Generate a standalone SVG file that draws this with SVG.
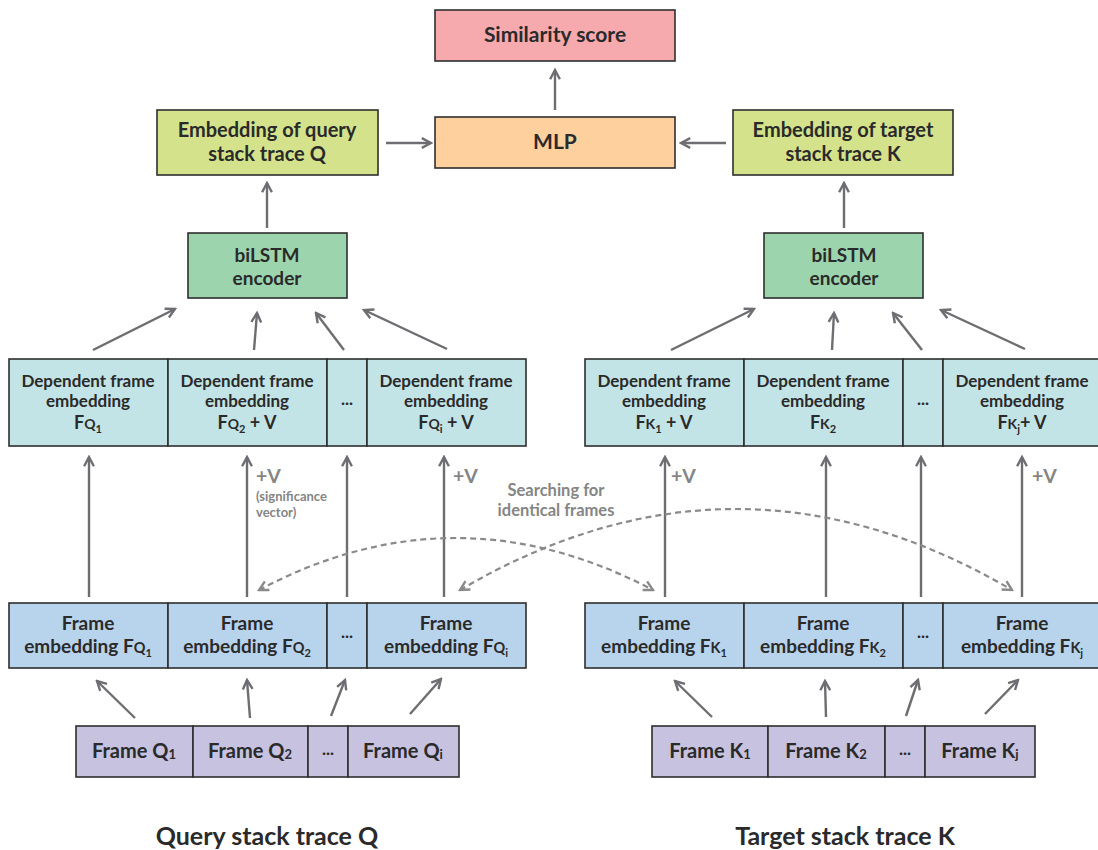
<svg xmlns="http://www.w3.org/2000/svg" width="1098" height="850" viewBox="0 0 1098 850">
<style>
.box{stroke:#2e2e2e;stroke-width:1.6}
.t{font-family:Lato,"Open Sans",sans-serif;font-weight:700;fill:#2a2a2a;text-anchor:middle}
.s20{font-size:20px}
.s19{font-size:19px}
.s17{font-size:17px}
.s18{font-size:18px}
.sub{font-size:11px}
.arr{stroke:#6d6d72;stroke-width:2.4;fill:none;marker-end:url(#ah)}
.dash{stroke:#8a8a8a;stroke-width:2.2;fill:none;stroke-dasharray:6 4;marker-end:url(#ahd);marker-start:url(#ahd)}
.g{font-family:Lato,"Open Sans",sans-serif;font-weight:700;fill:#858585}
.sim{fill:#f7aaae}.mlp{fill:#fdd09e}.emb{fill:#d4e38b}.lstm{fill:#9cd4ae}.dep{fill:#c2e4e6}.fe{fill:#b8d3ec}.fr{fill:#c6c2e0}
</style>
<defs>
<marker id="ah" viewBox="0 0 12 12" refX="10.5" refY="6" markerWidth="13" markerHeight="13" markerUnits="userSpaceOnUse" orient="auto">
<path d="M2,1.5 L10.5,6 L2,10.5" fill="none" stroke="#6d6d72" stroke-width="2.2"/>
</marker>
<marker id="ahd" viewBox="0 0 12 12" refX="10.5" refY="6" markerWidth="13" markerHeight="13" markerUnits="userSpaceOnUse" orient="auto-start-reverse">
<path d="M2,1.5 L10.5,6 L2,10.5" fill="none" stroke="#8a8a8a" stroke-width="2.2"/>
</marker>
</defs>
<rect width="1098" height="850" fill="#ffffff"/>

<g id="connectors">
<line class="arr" x1="555" y1="110" x2="555" y2="70"/>
<line class="arr" x1="386" y1="143" x2="431" y2="143"/>
<line class="arr" x1="726" y1="143" x2="681" y2="143"/>
<line class="arr" x1="267" y1="228" x2="267" y2="183"/>
<line class="arr" x1="844" y1="228" x2="844" y2="183"/>
<line class="arr" x1="93" y1="350" x2="175" y2="309"/>
<line class="arr" x1="254" y1="350" x2="257" y2="313"/>
<line class="arr" x1="344" y1="350" x2="316" y2="313"/>
<line class="arr" x1="447" y1="349" x2="364" y2="310"/>
<line class="arr" x1="671" y1="350" x2="754" y2="309"/>
<line class="arr" x1="832" y1="350" x2="834" y2="313"/>
<line class="arr" x1="922" y1="350" x2="893" y2="313"/>
<line class="arr" x1="1025" y1="349" x2="941" y2="310"/>
<line class="arr" x1="89" y1="597" x2="89" y2="457"/>
<line class="arr" x1="247" y1="597" x2="247" y2="457"/>
<line class="arr" x1="347" y1="597" x2="347" y2="457"/>
<line class="arr" x1="444" y1="597" x2="444" y2="457"/>
<line class="arr" x1="665" y1="597" x2="665" y2="457"/>
<line class="arr" x1="826" y1="597" x2="826" y2="457"/>
<line class="arr" x1="921" y1="597" x2="921" y2="457"/>
<line class="arr" x1="1022" y1="597" x2="1022" y2="457"/>
<line class="arr" x1="135" y1="718" x2="97" y2="681"/>
<line class="arr" x1="250" y1="718" x2="247" y2="680"/>
<line class="arr" x1="331" y1="716" x2="345" y2="680"/>
<line class="arr" x1="410" y1="714" x2="441" y2="679"/>
<line class="arr" x1="712" y1="717" x2="675" y2="681"/>
<line class="arr" x1="826" y1="717" x2="825" y2="681"/>
<line class="arr" x1="906" y1="716" x2="918" y2="680"/>
<line class="arr" x1="985" y1="714" x2="1018" y2="680"/>
<path class="dash" d="M259,590 Q455,486 653,590"/>
<path class="dash" d="M460,590 Q736,428 1012,590"/>
</g>

<g id="labels">
<text class="g" x="256" y="483" font-size="19.5" text-anchor="start">+V</text>
<text class="g" x="256" y="501" font-size="13" text-anchor="start">(significance</text>
<text class="g" x="256" y="517" font-size="13" text-anchor="start">vector)</text>
<text class="g" x="453" y="483" font-size="19.5" text-anchor="start">+V</text>
<text class="g" x="671" y="483" font-size="19.5" text-anchor="start">+V</text>
<text class="g" x="1032" y="483" font-size="19.5" text-anchor="start">+V</text>
<text class="g" x="556" y="496" font-size="16.5" text-anchor="middle">Searching for</text>
<text class="g" x="556" y="516" font-size="16.5" text-anchor="middle">identical frames</text>
<text class="t" x="267" y="845" font-size="25">Query stack trace Q</text>
<text class="t" x="845" y="845" font-size="25">Target stack trace K</text>
</g>

<g id="similarity">
<rect class="box sim" x="435" y="10" width="240" height="51"/>
<text class="t" font-size="21" x="555" y="42">Similarity score</text>
</g>
<g id="mlp">
<rect class="box mlp" x="435" y="117" width="240" height="51"/>
<text class="t" font-size="21" x="555" y="149">MLP</text>
</g>
<g id="emb-q">
<rect class="box emb" x="157" y="110" width="221" height="65"/>
<text class="t s20" x="267" y="137">Embedding of query</text>
<text class="t s20" x="267" y="161">stack trace Q</text>
</g>
<g id="emb-k">
<rect class="box emb" x="733" y="110" width="220" height="65"/>
<text class="t s20" x="843" y="137">Embedding of target</text>
<text class="t s20" x="843" y="161">stack trace K</text>
</g>
<g id="lstm-q">
<rect class="box lstm" x="188" y="233" width="159" height="65"/>
<text class="t s19" x="267" y="262">biLSTM</text>
<text class="t s19" x="267" y="285">encoder</text>
</g>
<g id="lstm-k">
<rect class="box lstm" x="764" y="233" width="159" height="65"/>
<text class="t s19" x="844" y="262">biLSTM</text>
<text class="t s19" x="844" y="285">encoder</text>
</g>

<g id="dep-q1">
<rect class="box dep" x="9" y="359" width="159" height="87"/>
<text class="t s17" x="88" y="387">Dependent frame</text>
<text class="t s17" x="88" y="407">embedding</text>
<text class="t s18" x="88" y="429">F<tspan font-size="14">Q</tspan><tspan class="sub" dy="4">1</tspan></text>
</g>
<g id="dep-q2">
<rect class="box dep" x="168" y="359" width="159" height="87"/>
<text class="t s17" x="247" y="387">Dependent frame</text>
<text class="t s17" x="247" y="407">embedding</text>
<text class="t s18" x="247" y="429">F<tspan font-size="14">Q</tspan><tspan class="sub" dy="4">2</tspan><tspan dy="-4"> + V</tspan></text>
</g>
<g id="dep-qdots">
<rect class="box dep" x="327" y="359" width="40" height="87"/>
<text class="t s17" x="347" y="405">...</text>
</g>
<g id="dep-qi">
<rect class="box dep" x="367" y="359" width="159" height="87"/>
<text class="t s17" x="446" y="387">Dependent frame</text>
<text class="t s17" x="446" y="407">embedding</text>
<text class="t s18" x="446" y="429">F<tspan font-size="14">Q</tspan><tspan class="sub" dy="4">i</tspan><tspan dy="-4"> + V</tspan></text>
</g>
<g id="dep-k1">
<rect class="box dep" x="585" y="359" width="159" height="87"/>
<text class="t s17" x="664" y="387">Dependent frame</text>
<text class="t s17" x="664" y="407">embedding</text>
<text class="t s18" x="664" y="429">F<tspan font-size="14">K</tspan><tspan class="sub" dy="4">1</tspan><tspan dy="-4"> + V</tspan></text>
</g>
<g id="dep-k2">
<rect class="box dep" x="744" y="359" width="159" height="87"/>
<text class="t s17" x="823" y="387">Dependent frame</text>
<text class="t s17" x="823" y="407">embedding</text>
<text class="t s18" x="823" y="429">F<tspan font-size="14">K</tspan><tspan class="sub" dy="4">2</tspan></text>
</g>
<g id="dep-kdots">
<rect class="box dep" x="903" y="359" width="40" height="87"/>
<text class="t s17" x="923" y="405">...</text>
</g>
<g id="dep-kj">
<rect class="box dep" x="943" y="359" width="159" height="87"/>
<text class="t s17" x="1022" y="387">Dependent frame</text>
<text class="t s17" x="1022" y="407">embedding</text>
<text class="t s18" x="1022" y="429">F<tspan font-size="14">K</tspan><tspan class="sub" dy="4">j</tspan><tspan dy="-4">+ V</tspan></text>
</g>

<g id="fe-q1">
<rect class="box fe" x="9" y="603" width="159" height="65"/>
<text class="t s19" x="88" y="630">Frame</text>
<text class="t s19" x="88" y="653">embedding F<tspan font-size="14.5">Q</tspan><tspan class="sub" dy="4">1</tspan></text>
</g>
<g id="fe-q2">
<rect class="box fe" x="168" y="603" width="159" height="65"/>
<text class="t s19" x="247" y="630">Frame</text>
<text class="t s19" x="247" y="653">embedding F<tspan font-size="14.5">Q</tspan><tspan class="sub" dy="4">2</tspan></text>
</g>
<g id="fe-qdots">
<rect class="box fe" x="327" y="603" width="40" height="65"/>
<text class="t s17" x="347" y="638">...</text>
</g>
<g id="fe-qi">
<rect class="box fe" x="367" y="603" width="159" height="65"/>
<text class="t s19" x="446" y="630">Frame</text>
<text class="t s19" x="446" y="653">embedding F<tspan font-size="14.5">Q</tspan><tspan class="sub" dy="4">i</tspan></text>
</g>
<g id="fe-k1">
<rect class="box fe" x="585" y="603" width="159" height="65"/>
<text class="t s19" x="664" y="630">Frame</text>
<text class="t s19" x="664" y="653">embedding F<tspan font-size="14.5">K</tspan><tspan class="sub" dy="4">1</tspan></text>
</g>
<g id="fe-k2">
<rect class="box fe" x="744" y="603" width="159" height="65"/>
<text class="t s19" x="823" y="630">Frame</text>
<text class="t s19" x="823" y="653">embedding F<tspan font-size="14.5">K</tspan><tspan class="sub" dy="4">2</tspan></text>
</g>
<g id="fe-kdots">
<rect class="box fe" x="903" y="603" width="40" height="65"/>
<text class="t s17" x="923" y="638">...</text>
</g>
<g id="fe-kj">
<rect class="box fe" x="943" y="603" width="159" height="65"/>
<text class="t s19" x="1022" y="630">Frame</text>
<text class="t s19" x="1022" y="653">embedding F<tspan font-size="14.5">K</tspan><tspan class="sub" dy="4">j</tspan></text>
</g>

<g id="fr-q1">
<rect class="box fr" x="76" y="726" width="117" height="51"/>
<text class="t s20" x="134" y="758">Frame Q<tspan font-size="13" dy="1">1</tspan></text>
</g>
<g id="fr-q2">
<rect class="box fr" x="193" y="726" width="115" height="51"/>
<text class="t s20" x="250" y="758">Frame Q<tspan font-size="13" dy="1">2</tspan></text>
</g>
<g id="fr-qdots">
<rect class="box fr" x="308" y="726" width="40" height="51"/>
<text class="t s17" x="328" y="755">...</text>
</g>
<g id="fr-qi">
<rect class="box fr" x="348" y="726" width="111" height="51"/>
<text class="t s20" x="403" y="758">Frame Q<tspan font-size="13" dy="1">i</tspan></text>
</g>
<g id="fr-k1">
<rect class="box fr" x="652" y="726" width="116" height="51"/>
<text class="t s20" x="710" y="758">Frame K<tspan font-size="13" dy="1">1</tspan></text>
</g>
<g id="fr-k2">
<rect class="box fr" x="768" y="726" width="117" height="51"/>
<text class="t s20" x="826" y="758">Frame K<tspan font-size="13" dy="1">2</tspan></text>
</g>
<g id="fr-kdots">
<rect class="box fr" x="885" y="726" width="40" height="51"/>
<text class="t s17" x="905" y="755">...</text>
</g>
<g id="fr-kj">
<rect class="box fr" x="925" y="726" width="110" height="51"/>
<text class="t s20" x="980" y="758">Frame K<tspan font-size="13" dy="1">j</tspan></text>
</g>
</svg>
